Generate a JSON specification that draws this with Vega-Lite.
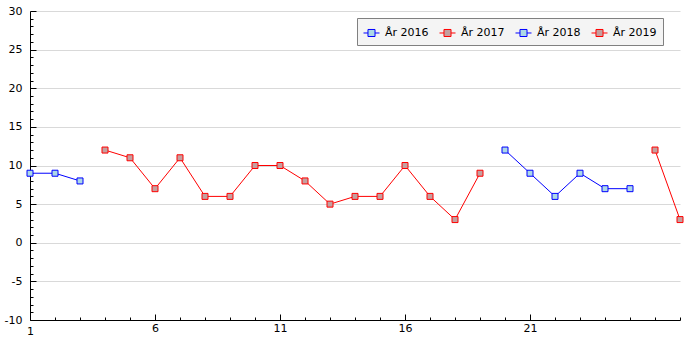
{
  "$schema": "https://vega.github.io/schema/vega-lite/v6.json",
  "width": 650,
  "height": 309,
  "autosize": "none",
  "padding": {"left": 30, "top": 11, "right": 20, "bottom": 30},
  "background": "white",
  "config": {
    "view": {"stroke": null},
    "font": "DejaVu Sans",
    "axis": {
      "labelFont": "DejaVu Sans",
      "labelFontSize": 11,
      "labelColor": "#000000",
      "domainColor": "#000000",
      "tickColor": "#000000",
      "gridColor": "#d9d9d9",
      "title": null
    },
    "legend": {
      "labelFont": "DejaVu Sans",
      "labelFontSize": 11,
      "labelColor": "#000000"
    }
  },
  "data": {
    "values": [
      {"x": 1, "y": 9, "series": "År 2016"},
      {"x": 2, "y": 9, "series": "År 2016"},
      {"x": 3, "y": 8, "series": "År 2016"},
      {"x": 4, "y": 12, "series": "År 2017"},
      {"x": 5, "y": 11, "series": "År 2017"},
      {"x": 6, "y": 7, "series": "År 2017"},
      {"x": 7, "y": 11, "series": "År 2017"},
      {"x": 8, "y": 6, "series": "År 2017"},
      {"x": 9, "y": 6, "series": "År 2017"},
      {"x": 10, "y": 10, "series": "År 2017"},
      {"x": 11, "y": 10, "series": "År 2017"},
      {"x": 12, "y": 8, "series": "År 2017"},
      {"x": 13, "y": 5, "series": "År 2017"},
      {"x": 14, "y": 6, "series": "År 2017"},
      {"x": 15, "y": 6, "series": "År 2017"},
      {"x": 16, "y": 10, "series": "År 2017"},
      {"x": 17, "y": 6, "series": "År 2017"},
      {"x": 18, "y": 3, "series": "År 2017"},
      {"x": 19, "y": 9, "series": "År 2017"},
      {"x": 20, "y": 12, "series": "År 2018"},
      {"x": 21, "y": 9, "series": "År 2018"},
      {"x": 22, "y": 6, "series": "År 2018"},
      {"x": 23, "y": 9, "series": "År 2018"},
      {"x": 24, "y": 7, "series": "År 2018"},
      {"x": 25, "y": 7, "series": "År 2018"},
      {"x": 26, "y": 12, "series": "År 2019"},
      {"x": 27, "y": 3, "series": "År 2019"}
    ]
  },
  "encoding": {
    "x": {
      "field": "x",
      "type": "quantitative",
      "scale": {"domain": [1, 27], "nice": false, "zero": false},
      "axis": {
        "values": [1,2,3,4,5,6,7,8,9,10,11,12,13,14,15,16,17,18,19,20,21,22,23,24,25,26,27],
        "grid": false,
        "tickSize": {"condition": {"test": "(datum.value - 1) % 5 === 0 && datum.value > 1 && datum.value < 26", "value": -6}, "value": -3},
        "labelExpr": "(datum.value - 1) % 5 === 0 && datum.value < 26 ? datum.label : ''",
        "labelPadding": 8,
        "labelFlush": false,
        "labelOverlap": false
      }
    },
    "y": {
      "field": "y",
      "type": "quantitative",
      "scale": {"domain": [-10, 30], "nice": false, "zero": false},
      "axis": {
        "values": [-10,-9,-8,-7,-6,-5,-4,-3,-2,-1,0,1,2,3,4,5,6,7,8,9,10,11,12,13,14,15,16,17,18,19,20,21,22,23,24,25,26,27,28,29,30],
        "grid": true,
        "gridOpacity": {"condition": {"test": "datum.value % 5 === 0 && datum.value > -10", "value": 1}, "value": 0},
        "tickSize": {"condition": {"test": "datum.value % 5 === 0", "value": -6}, "value": -3},
        "labelExpr": "datum.value % 5 === 0 ? replace(datum.label, '−', '-') : ''",
        "labelPadding": 14,
        "labelFlush": false,
        "labelOverlap": false
      }
    },
    "stroke": {
      "field": "series",
      "type": "nominal",
      "scale": {"domain": ["År 2016", "År 2017", "År 2018", "År 2019"], "range": ["#0000ff", "#ff0000", "#0000ff", "#ff0000"]},
      "legend": {
        "title": null,
        "orient": "none",
        "legendX": 327,
        "legendY": 7,
        "direction": "horizontal",
        "columns": 4,
        "columnPadding": 8,
        "padding": 6,
        "fillColor": "#f4f4f4",
        "strokeColor": "#808080",
        "symbolSize": 256,
        "symbolStrokeWidth": 1,
        "labelOffset": 5,
        "symbolOpacity": 1,
        "symbolType": "M-1,0H-0.44M0.44,0H1M-0.44,-0.44H0.44V0.44H-0.44Z",
        "encode": {"symbols": {"update": {"shape": {"value": "M-1,0H-0.44M0.44,0H1M-0.44,-0.44H0.44V0.44H-0.44Z"}, "fill": {"scale": "fill", "field": "value"}}}}
      }
    }
  },
  "layer": [
    {
      "mark": {"type": "line", "strokeWidth": 1},
      "encoding": {
        "detail": {"field": "series"}
      }
    },
    {
      "mark": {"type": "point", "shape": "square", "size": 36, "filled": true, "opacity": 1, "strokeWidth": 1},
      "encoding": {
        "fill": {
          "field": "series",
          "type": "nominal",
          "scale": {"domain": ["År 2016", "År 2017", "År 2018", "År 2019"], "range": ["#add8e6", "#c4a0a0", "#add8e6", "#c4a0a0"]},
          "legend": null
        }
      }
    }
  ]
}
